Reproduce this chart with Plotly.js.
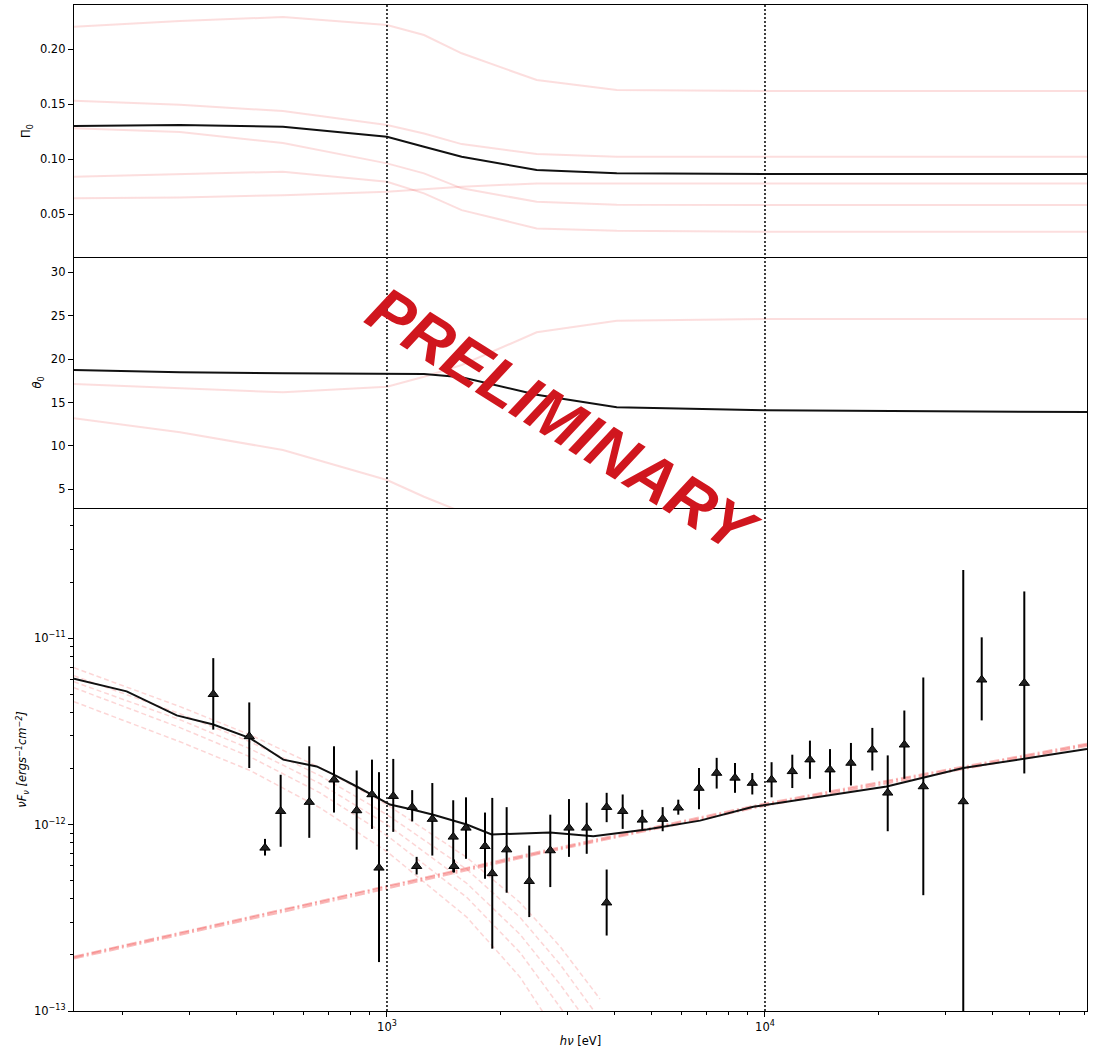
<!DOCTYPE html>
<html>
<head>
<meta charset="utf-8">
<script src="https://cdn.plot.ly/plotly-3.0.1.min.js"></script>
<style>
  html, body { margin: 0; padding: 0; background: #fff; }
  #chart { width: 1093px; height: 1052px; }
</style>
</head>
<body>
<div id="chart"></div>
<script>
// Energy grid (eV) shared by the polarisation-degree and angle curves
const paramEnergy = [148.6, 283.4, 530.7, 1000, 1253, 1576, 2489, 4053, 10000, 71100];

// Polarisation degree Π0: best model and the spread of sampled models
const piBest = [0.130, 0.1309, 0.1294, 0.1203, 0.1112, 0.1021, 0.0900, 0.0870, 0.0865, 0.0864];
const piSampleA = [0.2203, 0.2255, 0.2290, 0.2218, 0.2127, 0.1961, 0.1718, 0.1627, 0.1618, 0.1618];
const piSampleB = [0.153, 0.1494, 0.1436, 0.1309, 0.1233, 0.1136, 0.1045, 0.1021, 0.1021, 0.1021];
const piSampleC = [0.128, 0.1245, 0.1145, 0.0961, 0.0870, 0.0734, 0.0612, 0.0585, 0.0582, 0.0582];
const piSampleD = [0.0839, 0.0865, 0.0885, 0.0794, 0.0688, 0.0536, 0.0370, 0.0349, 0.0340, 0.0340];
const piSampleE = [0.0643, 0.0650, 0.0672, 0.0703, 0.0725, 0.0748, 0.0779, 0.0779, 0.0779, 0.0779];

// Polarisation angle θ0 (degrees)
const thetaBest = [18.74, 18.48, 18.38, 18.36, 18.28, 17.9, 15.9, 14.45, 14.1, 13.9];
const thetaSampleF = [17.13, 16.64, 16.18, 16.82, 17.97, 19.32, 23.09, 24.42, 24.62, 24.62];
const thetaSampleG = [13.18, 11.57, 9.53, 6.07, 4.15, 2.4, null, null, null, null];

// Total spectral model νFν
const modelEnergy = [148.6, 204.8, 277.8, 347.1, 434.1, 531.8, 651.7, 721.1, 831.5, 919.9, 1018, 1173, 1326, 1625, 1892, 2699, 3514, 4864, 6730, 9312, 20990, 33460, 48730, 71100];
const modelFlux = [6.05e-12, 5.18e-12, 3.85e-12, 3.44e-12, 2.91e-12, 2.23e-12, 2.05e-12, 1.86e-12, 1.60e-12, 1.43e-12, 1.28e-12, 1.20e-12, 1.13e-12, 1.00e-12, 8.85e-13, 9.08e-13, 8.65e-13, 9.40e-13, 1.05e-12, 1.245e-12, 1.60e-12, 2.01e-12, 2.25e-12, 2.54e-12];

// Soft (thermal) component, several samples
const softEnergy = [148.6, 283.4, 434.1, 665, 1000, 1628, 2248, 2869, 3660];
const softFlux1 = [6.93e-12, 4.29e-12, 3.03e-12, 2.02e-12, 1.28e-12, 6.65e-13, 3.82e-13, 2.22e-13, 1.16e-13];
const softFlux2 = [6.28e-12, 3.93e-12, 2.78e-12, 1.83e-12, 1.13e-12, 5.74e-13, 3.18e-13, 1.78e-13, 9.03e-14];
const softFlux3 = [5.83e-12, 3.65e-12, 2.55e-12, 1.66e-12, 1.00e-12, 4.83e-13, 2.58e-13, 1.39e-13, 7.05e-14];
const softFlux4 = [5.42e-12, 3.31e-12, 2.31e-12, 1.48e-12, 8.73e-13, 4.06e-13, 2.06e-13, 1.05e-13, 5.18e-14];
const softFlux5 = [4.56e-12, 2.78e-12, 1.95e-12, 1.23e-12, 7.16e-13, 3.18e-13, 1.52e-13, 7.05e-14, 3.37e-14];

// Hard (power-law) component, several samples
const hardEnergy = [148.6, 1000, 2540, 10000, 22750, 71100];
const hardFlux1 = [1.96e-13, 4.66e-13, 7.18e-13, 1.30e-12, 1.77e-12, 2.72e-12];
const hardFlux2 = [1.94e-13, 4.60e-13, 7.08e-13, 1.28e-12, 1.74e-12, 2.68e-12];
const hardFlux3 = [1.91e-13, 4.53e-13, 6.98e-13, 1.26e-12, 1.71e-12, 2.64e-12];

// Observed spectrum with error ranges
const obsEnergy = [347.1, 432.2, 475.6, 523.3, 622.9, 724.2, 831.5, 912.6, 952.4, 1039, 1166, 1198, 1318, 1497, 1504, 1618, 1817, 1899, 2073, 2379, 2704, 3030, 3376, 3812, 3812, 4203, 4735, 5362, 5897, 6690, 7451, 8330, 9256, 10410, 11810, 13150, 14860, 16880, 19230, 21120, 23370, 26230, 33460, 37440, 48530];
const obsFlux = [5.00e-12, 2.97e-12, 7.50e-13, 1.18e-12, 1.32e-12, 1.74e-12, 1.19e-12, 1.45e-12, 5.86e-13, 1.42e-12, 1.24e-12, 5.98e-13, 1.07e-12, 8.59e-13, 5.98e-13, 9.60e-13, 7.65e-13, 5.47e-13, 7.34e-13, 4.97e-13, 7.26e-13, 9.60e-13, 9.60e-13, 1.24e-12, 3.81e-13, 1.18e-12, 1.06e-12, 1.07e-12, 1.23e-12, 1.57e-12, 1.89e-12, 1.78e-12, 1.67e-12, 1.74e-12, 1.93e-12, 2.23e-12, 1.97e-12, 2.14e-12, 2.52e-12, 1.48e-12, 2.68e-12, 1.60e-12, 1.33e-12, 5.98e-12, 5.74e-12];
const obsHigh = [7.81e-12, 4.52e-12, 8.38e-13, 1.85e-12, 2.63e-12, 2.63e-12, 1.95e-12, 2.23e-12, 1.91e-12, 2.25e-12, 1.53e-12, 6.71e-13, 1.67e-12, 1.35e-12, 6.50e-13, 1.40e-12, 1.16e-12, 1.39e-12, 1.24e-12, 7.72e-13, 1.13e-12, 1.37e-12, 1.31e-12, 1.48e-12, 5.74e-13, 1.45e-12, 1.20e-12, 1.24e-12, 1.36e-12, 2.01e-12, 2.28e-12, 2.14e-12, 1.89e-12, 2.16e-12, 2.37e-12, 2.82e-12, 2.54e-12, 2.74e-12, 3.30e-12, 2.35e-12, 4.09e-12, 6.15e-12, 2.32e-11, 1.01e-11, 1.78e-11];
const obsLow = [3.23e-12, 2.01e-12, 6.82e-13, 7.60e-13, 8.49e-13, 1.16e-12, 7.34e-13, 9.48e-13, 1.83e-13, 9.14e-13, 1.04e-12, 5.40e-13, 6.82e-13, 5.55e-13, 5.53e-13, 6.55e-13, 5.12e-13, 2.16e-13, 4.31e-13, 3.19e-13, 4.62e-13, 6.71e-13, 6.97e-13, 1.03e-12, 2.54e-13, 9.48e-13, 9.40e-13, 9.21e-13, 1.13e-12, 1.21e-12, 1.56e-12, 1.48e-12, 1.45e-12, 1.40e-12, 1.57e-12, 1.76e-12, 1.49e-12, 1.62e-12, 1.95e-12, 9.21e-13, 1.76e-12, 4.18e-13, 5e-14, 3.62e-12, 1.88e-12];

// Axis tick labels and marker energies
const energyTicks = [1000, 10000];
const energyTickText = ['10<sup>3</sup>', '10<sup>4</sup>'];
const fluxTicks = [1e-13, 1e-12, 1e-11];
const fluxTickText = ['10<sup>−13</sup>', '10<sup>−12</sup>', '10<sup>−11</sup>'];
const piTicks = [0.05, 0.10, 0.15, 0.20];
const piTickText = ['0.05', '0.10', '0.15', '0.20'];
const thetaTicks = [5, 10, 15, 20, 25, 30];
const markerEnergies = [1000, 10000];

const PALE = 'rgba(240,60,60,0.17)';
const SOFT = 'rgba(240,70,70,0.22)';
const HARD = 'rgba(240,60,60,0.35)';
const FONT = 'DejaVu Sans, sans-serif';

function paleLine(x, y, xa, ya, color, dash, width) {
  return { x: x, y: y, xaxis: xa, yaxis: ya, type: 'scatter', mode: 'lines',
           line: { color: color, width: width || 2, dash: dash || 'solid' },
           hoverinfo: 'skip', showlegend: false, connectgaps: false };
}
function darkLine(x, y, xa, ya) {
  return { x: x, y: y, xaxis: xa, yaxis: ya, type: 'scatter', mode: 'lines',
           line: { color: '#111', width: 2 }, showlegend: false };
}

const traces = [];
// top panel: Π0
[piSampleA, piSampleB, piSampleC, piSampleD, piSampleE].forEach(s =>
  traces.push(paleLine(paramEnergy, s, 'x3', 'y', PALE)));
traces.push(darkLine(paramEnergy, piBest, 'x3', 'y'));
// middle panel: θ0
[thetaSampleF, thetaSampleG].forEach(s =>
  traces.push(paleLine(paramEnergy, s, 'x2', 'y2', PALE)));
traces.push(darkLine(paramEnergy, thetaBest, 'x2', 'y2'));
// bottom panel: spectrum
[softFlux1, softFlux2, softFlux3, softFlux4, softFlux5].forEach(s =>
  traces.push(paleLine(softEnergy, s, 'x', 'y3', SOFT, '5px,3px', 1.5)));
[hardFlux1, hardFlux2, hardFlux3].forEach(s =>
  traces.push(paleLine(hardEnergy, s, 'x', 'y3', HARD, '10px,3px,2px,3px', 1.8)));
traces.push(darkLine(modelEnergy, modelFlux, 'x', 'y3'));
traces.push({
  x: obsEnergy, y: obsFlux, xaxis: 'x', yaxis: 'y3', type: 'scatter', mode: 'markers',
  marker: { symbol: 'triangle-up', size: 9, color: '#222', line: { color: '#000', width: 1 } },
  error_y: { type: 'data', symmetric: false,
             array: obsFlux.map((v, i) => obsHigh[i] - v),
             arrayminus: obsFlux.map((v, i) => v - obsLow[i]),
             color: '#000', thickness: 2, width: 0 },
  showlegend: false
});

const minorX = [200, 300, 400, 500, 600, 700, 800, 900, 2000, 3000, 4000, 5000, 6000, 7000, 8000, 9000, 20000, 30000, 40000, 50000, 60000, 70000];
const minorY = [2e-13, 3e-13, 4e-13, 5e-13, 6e-13, 7e-13, 8e-13, 9e-13, 2e-12, 3e-12, 4e-12, 5e-12, 6e-12, 7e-12, 8e-12, 9e-12, 2e-11, 3e-11, 4e-11];

const frame = { showline: true, mirror: true, linecolor: '#000', linewidth: 1.2,
                showgrid: false, zeroline: false, ticks: 'outside', ticklen: 5,
                tickwidth: 1, tickcolor: '#000',
                tickfont: { family: FONT, size: 11.5, color: '#000' } };
const xRange = [Math.log10(148.6), Math.log10(71100)];

const layout = {
  width: 1093, height: 1052,
  margin: { l: 74, r: 6, t: 5, b: 41 },
  paper_bgcolor: '#fff', plot_bgcolor: '#fff',
  font: { family: FONT, size: 11.5, color: '#000' },
  showlegend: false,
  // each panel boundary is drawn once: top frame by the upper axis, the rest by bottom lines
  xaxis: Object.assign({}, frame, {
    type: 'log', range: xRange, anchor: 'y3', mirror: false,
    tickmode: 'array', tickvals: energyTicks, ticktext: energyTickText,
    minor: { tickmode: 'array', tickvals: minorX, ticks: 'outside', ticklen: 3, tickcolor: '#000' },
    title: { text: '<i>hν</i> [eV]', font: { family: FONT, size: 11.5 }, standoff: 4 }
  }),
  xaxis2: Object.assign({}, frame, {
    type: 'log', range: xRange, anchor: 'y2', matches: 'x', mirror: false,
    ticks: '', showticklabels: false
  }),
  xaxis3: Object.assign({}, frame, {
    type: 'log', range: xRange, anchor: 'y', matches: 'x', ticks: '', showticklabels: false
  }),
  yaxis: Object.assign({}, frame, {
    domain: [0.7495, 1], anchor: 'x3', range: [0.011, 0.24],
    tickmode: 'array', tickvals: piTicks, ticktext: piTickText,
    title: { text: 'Π<sub>0</sub>', font: { family: FONT, size: 11.5 }, standoff: 6 }
  }),
  yaxis2: Object.assign({}, frame, {
    domain: [0.5, 0.7495], anchor: 'x2', range: [2.85, 31.76],
    tickmode: 'array', tickvals: thetaTicks,
    title: { text: '<i>θ</i><sub>0</sub>', font: { family: FONT, size: 11.5 }, standoff: 6 }
  }),
  yaxis3: Object.assign({}, frame, {
    domain: [0, 0.5], anchor: 'x', type: 'log', range: [-13, -10.302],
    tickmode: 'array', tickvals: fluxTicks, ticktext: fluxTickText,
    minor: { tickmode: 'array', tickvals: minorY, ticks: 'outside', ticklen: 3, tickcolor: '#000' },
    title: { text: '<i>νF<sub>ν</sub> [ergs<sup>−1</sup>cm<sup>−2</sup>]</i>', font: { family: FONT, size: 11.5 }, standoff: 4 }
  }),
  shapes: markerEnergies.map(e => ({
    type: 'line', xref: 'x', yref: 'paper', x0: e, x1: e, y0: 0, y1: 1,
    line: { color: '#111', width: 1.6, dash: '2px,2px' }, layer: 'above'
  })),
  annotations: [{
    text: '<b><i>PRELIMINARY</i></b>', xref: 'paper', yref: 'paper',
    x: 0.4827, y: 0.5865, xanchor: 'center', yanchor: 'middle',
    textangle: 32, showarrow: false,
    font: { family: 'Liberation Sans, Arial, sans-serif', size: 64, color: '#d0161e' }
  }]
};

Plotly.newPlot('chart', traces, layout, { staticPlot: true, displayModeBar: false });
</script>
</body>
</html>
